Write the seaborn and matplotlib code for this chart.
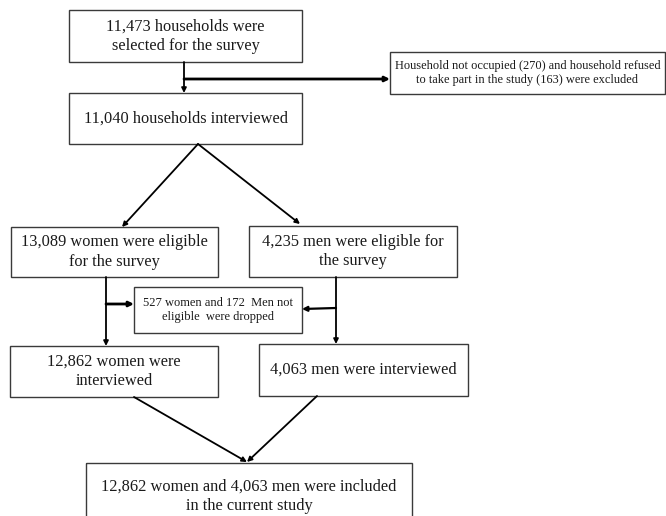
from matplotlib import pyplot as plt
import seaborn as sns

# box texts of the flow chart
top_text = "11,473 households were\nselected for the survey"
excluded_text = ("Household not occupied (270) and household refused\n"
                 "to take part in the study (163) were excluded")
interviewed_text = "11,040 households interviewed"
women_eligible_text = "13,089 women were eligible\nfor the survey"
men_eligible_text = "4,235 men were eligible for\nthe survey"
dropped_text = "527 women and 172  Men not\neligible  were dropped"
women_interviewed_text = "12,862 women were\ninterviewed"
men_interviewed_text = "4,063 men were interviewed"
final_text = "12,862 women and 4,063 men were included\nin the current study"

sns.set_style("white")
plt.rcParams['font.family'] = ['Liberation Serif', 'DejaVu Serif']

fig, ax = plt.subplots(1, 1, figsize=(6.66, 5.16), dpi=100)
fig.subplots_adjust(left=0, right=1, bottom=0, top=1)
ax.set_xlim(0, 666)
ax.set_ylim(516, 0)
ax.axis('off')


def box(x0, y0, x1, y1, text, size=11.8):
    ax.add_patch(plt.Rectangle((x0, y0), x1 - x0, y1 - y0, fill=False,
                               edgecolor='#3a3a3a', lw=1.0))
    ax.text((x0 + x1) / 2, (y0 + y1) / 2, text, ha='center', va='center',
            fontsize=size, linespacing=1.3, color='#1a1a1a')


def arrow(x0, y0, x1, y1, lw=1.3):
    ax.annotate("", xy=(x1, y1), xytext=(x0, y0),
                arrowprops=dict(arrowstyle='-|>', color='black', lw=lw,
                                mutation_scale=7, shrinkA=0, shrinkB=0))


box(69, 10, 302, 62, top_text)
box(390, 52, 665, 94, excluded_text, size=8.9)
box(69, 93, 302, 144, interviewed_text)
box(11, 227, 218, 277, women_eligible_text)
box(249, 226, 457, 277, men_eligible_text)
box(134, 287, 302, 333, dropped_text, size=9.0)
box(10, 346, 218, 397, women_interviewed_text)
box(259, 344, 468, 396, men_interviewed_text)
box(86, 463, 412, 530, final_text)

arrow(184, 62, 184, 93)
arrow(184, 79, 390, 79, lw=2)
arrow(198, 144, 122, 227)
arrow(198, 144, 300, 224)
arrow(106, 277, 106, 346)
arrow(106, 304, 134, 304, lw=2)
arrow(336, 277, 336, 344)
arrow(336, 308, 302, 309, lw=1.6)
arrow(134, 397, 247, 462)
arrow(317, 396, 247, 462)

fig.savefig('out.png', dpi=100)
plt.close()
